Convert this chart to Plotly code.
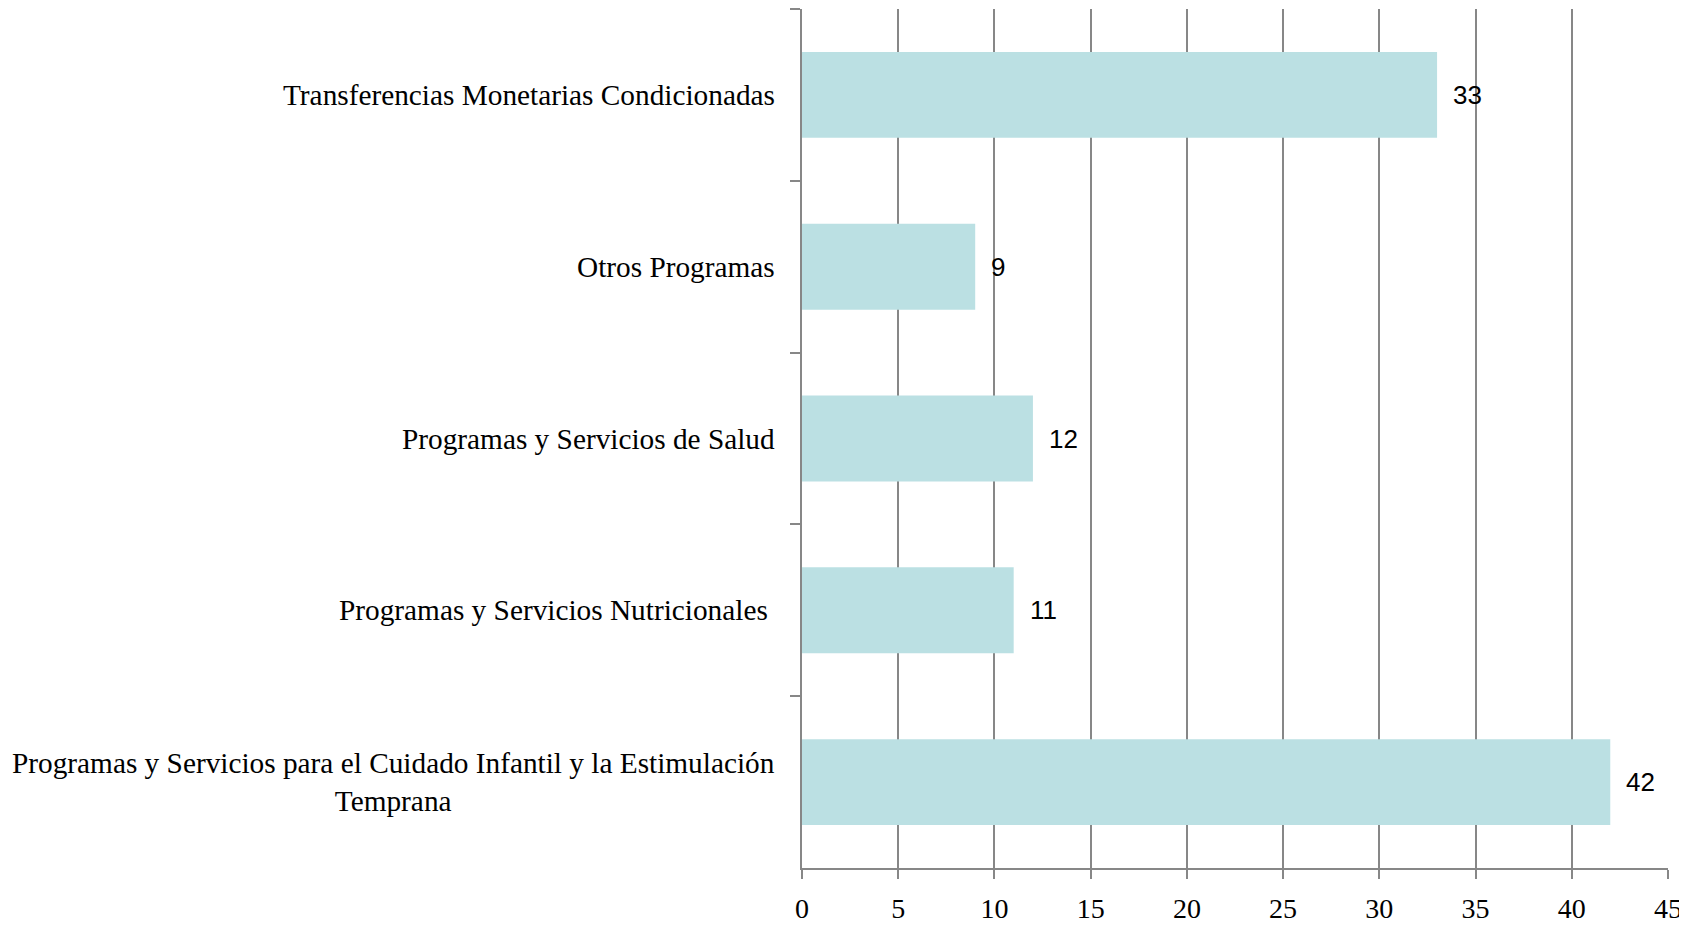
import plotly.graph_objects as go

categories = [
    "Transferencias Monetarias Condicionadas",
    "Otros Programas",
    "Programas y Servicios de Salud",
    "Programas y Servicios Nutricionales ",
    "Programas y Servicios para el Cuidado Infantil y la Estimulación<br>Temprana",
]
values = [33, 9, 12, 11, 42]
x_ticks = [0, 5, 10, 15, 20, 25, 30, 35, 40, 45]

BAR = "#BBE0E3"
GRID = "#878787"
SERIF = "Liberation Serif, Times New Roman, serif"
SANS = "Liberation Sans, Arial, sans-serif"

fig = go.Figure()
fig.add_trace(go.Bar(
    x=values, y=categories, orientation="h",
    marker=dict(color=BAR, line=dict(width=0)),
    hoverinfo="x+y",
))

annotations = []
for c, v in zip(categories, values):
    annotations.append(dict(
        x=v, y=c, xref="x", yref="y", text=str(v), showarrow=False,
        xanchor="left", xshift=14, font=dict(family=SANS, size=26, color="#000"),
    ))
    label = c.replace("Nutricionales ", "Nutricionales&nbsp;")
    annotations.append(dict(
        x=0, y=c, xref="paper", yref="y", text=label,
        showarrow=False, xanchor="right", xshift=-25, align="center",
        font=dict(family=SERIF, size=29.3, color="#000"),
    ))

fig.update_layout(
    width=1679, height=917,
    margin=dict(l=793.5, r=19, t=1, b=57, autoexpand=False),
    paper_bgcolor="white", plot_bgcolor="white",
    bargap=0.5, showlegend=False,
    annotations=annotations,
    xaxis=dict(
        range=[0, 45], tickvals=x_ticks, ticktext=[str(t) for t in x_ticks],
        showgrid=True, gridcolor=GRID, gridwidth=1.5,
        showline=True, linecolor=GRID, linewidth=1.5,
        ticks="outside", ticklen=9, tickcolor=GRID, tickwidth=1.5,
        ticklabelstandoff=6, automargin=False,
        tickfont=dict(family=SERIF, size=28, color="#000"),
        zeroline=False, fixedrange=True,
    ),
    yaxis=dict(
        autorange="reversed", showticklabels=False, tickson="boundaries",
        ticks="outside", ticklen=10, tickcolor=GRID, tickwidth=1.5,
        showline=True, linecolor=GRID, linewidth=1.5, automargin=False,
        showgrid=False, zeroline=False, fixedrange=True,
    ),
)

fig.write_html("out.html")
